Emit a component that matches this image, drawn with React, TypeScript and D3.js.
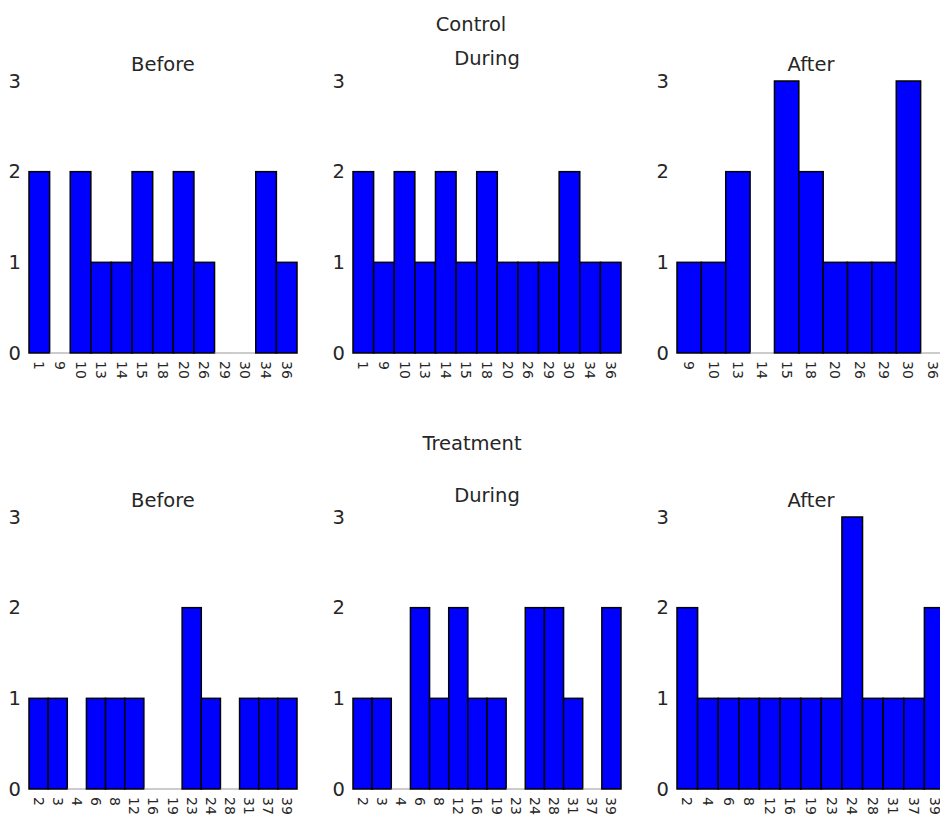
import React from "react";
import * as d3 from "d3";

const controlCats = ["1", "9", "10", "13", "14", "15", "18", "20", "26", "29", "30", "34", "36"];
const controlBeforeVals = [2, 0, 2, 1, 1, 2, 1, 2, 1, 0, 0, 2, 1];
const controlDuringVals = [2, 1, 2, 1, 2, 1, 2, 1, 1, 1, 2, 1, 1];
const controlAfterCats = ["9", "10", "13", "14", "15", "18", "20", "26", "29", "30", "36"];
const controlAfterVals = [1, 1, 2, 0, 3, 2, 1, 1, 1, 3, 0];

const treatmentCats = ["2", "3", "4", "6", "8", "12", "16", "19", "23", "24", "28", "31", "37", "39"];
const treatmentBeforeVals = [1, 1, 0, 1, 1, 1, 0, 0, 2, 1, 0, 1, 1, 1];
const treatmentDuringVals = [1, 1, 0, 2, 1, 2, 1, 1, 0, 2, 2, 1, 0, 2];
const treatmentAfterCats = ["2", "4", "6", "8", "12", "16", "19", "23", "24", "28", "31", "37", "39"];
const treatmentAfterVals = [2, 1, 1, 1, 1, 1, 1, 1, 3, 1, 1, 1, 2];

const yTicks = [0, 1, 2, 3];
const rowTitles = ["Control", "Treatment"];
const colTitles = ["Before", "During", "After"];

const FONT = "DejaVu Sans, sans-serif";
const TEXT = "#262626";

type PanelProps = {
  cats: string[];
  vals: number[];
  left: number;
  top: number;
  width: number;
  height: number;
  title: string;
  titleY: number;
};

function Panel({ cats, vals, left, top, width, height, title, titleY }: PanelProps) {
  const x = d3.scaleBand<string>().domain(cats).range([left, left + width]).padding(0);
  const y = d3.scaleLinear().domain([0, 3]).range([top + height, top]);
  const y0 = y(0);
  return (
    <g>
      <text x={left + width / 2} y={titleY} textAnchor="middle" fontSize={19.5} fontFamily={FONT} fill={TEXT}>
        {title}
      </text>
      {cats.map((c, i) => {
        const bx = x(c) as number;
        const h = y0 - y(vals[i]);
        if (h <= 0) {
          return (
            <line
              key={c}
              x1={bx}
              x2={bx + x.bandwidth()}
              y1={y0}
              y2={y0}
              stroke="#999"
              strokeWidth={1}
            />
          );
        }
        return (
          <rect
            key={c}
            x={bx}
            y={y(vals[i])}
            width={x.bandwidth()}
            height={h}
            fill="#0000ff"
            stroke="#000"
            strokeWidth={1.5}
          />
        );
      })}
      {yTicks.map((t) => (
        <text
          key={t}
          x={left - 8}
          y={y(t)}
          textAnchor="end"
          dominantBaseline="central"
          fontSize={19.5}
          fontFamily={FONT}
          fill={TEXT}
        >
          {t}
        </text>
      ))}
      {cats.map((c) => {
        const cx = (x(c) as number) + x.bandwidth() / 2;
        const ty = y0 + 8;
        return (
          <text
            key={"l" + c}
            x={cx}
            y={ty}
            transform={`rotate(90, ${cx}, ${ty})`}
            textAnchor="start"
            dominantBaseline="central"
            fontSize={14}
            fontFamily={FONT}
            fill={TEXT}
          >
            {c}
          </text>
        );
      })}
    </g>
  );
}

export default function App() {
  const lefts = [29, 353, 677];
  const W = 268;
  const H = 272;
  const tops = [81, 517];
  const topRow = [
    { cats: controlCats, vals: controlBeforeVals },
    { cats: controlCats, vals: controlDuringVals },
    { cats: controlAfterCats, vals: controlAfterVals },
  ];
  const bottomRow = [
    { cats: treatmentCats, vals: treatmentBeforeVals },
    { cats: treatmentCats, vals: treatmentDuringVals },
    { cats: treatmentAfterCats, vals: treatmentAfterVals },
  ];
  const titleYTop = [71, 65, 71];
  const titleYBottom = [507, 501.5, 507];
  return (
    <svg
      width={940}
      height={816}
      style={{ position: "absolute", left: 0, top: 0, background: "#fff" }}
    >
      <rect x={0} y={0} width={940} height={816} fill="#fff" />
      <text x={471} y={30.5} textAnchor="middle" fontSize={19.5} fontFamily={FONT} fill={TEXT}>
        {rowTitles[0]}
      </text>
      <text x={472} y={450} textAnchor="middle" fontSize={19.5} fontFamily={FONT} fill={TEXT}>
        {rowTitles[1]}
      </text>
      {topRow.map((p, i) => (
        <Panel
          key={"t" + i}
          cats={p.cats}
          vals={p.vals}
          left={lefts[i]}
          top={tops[0]}
          width={W}
          height={H}
          title={colTitles[i]}
          titleY={titleYTop[i]}
        />
      ))}
      {bottomRow.map((p, i) => (
        <Panel
          key={"b" + i}
          cats={p.cats}
          vals={p.vals}
          left={lefts[i]}
          top={tops[1]}
          width={W}
          height={H}
          title={colTitles[i]}
          titleY={titleYBottom[i]}
        />
      ))}
    </svg>
  );
}
